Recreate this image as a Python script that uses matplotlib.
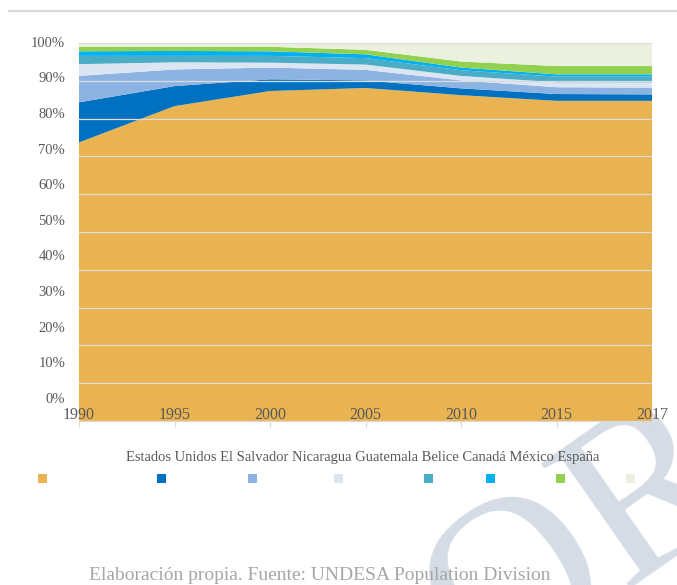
import matplotlib
matplotlib.use("Agg")
import matplotlib.pyplot as plt
from matplotlib.patches import Rectangle
from matplotlib.lines import Line2D

plt.rcParams['font.family'] = ['Liberation Serif', 'DejaVu Serif']

years = ["1990", "1995", "2000", "2005", "2010", "2015", "2017"]
paises = ["Estados Unidos", "El Salvador", "Nicaragua", "Guatemala",
          "Belice", "Canadá", "México", "España"]

# porcentaje de emigrantes por destino (lectura aproximada del gráfico)
estados_unidos = [73.7, 83.3, 87.3, 88.1, 86.2, 84.7, 84.7]
el_salvador = [10.6, 5.3, 3.1, 2.0, 1.8, 1.8, 1.7]
nicaragua = [7.0, 4.4, 3.1, 2.8, 2.1, 1.8, 1.8]
guatemala = [3.1, 1.9, 1.3, 1.4, 1.2, 1.3, 1.4]
belice = [2.2, 1.7, 1.8, 1.7, 1.5, 1.5, 1.5]
canada = [1.2, 1.3, 1.2, 1.0, 0.7, 0.6, 0.6]
mexico = [1.2, 1.1, 1.2, 1.2, 1.6, 2.2, 2.2]
espana = [1.0, 1.0, 1.0, 1.8, 4.9, 6.1, 6.1]

colores = ["#E8B350", "#0070C0", "#8DB3E2", "#DCE6F2",
           "#4BACC6", "#00B0F0", "#92D050", "#EBF1DE"]

W, H = 677, 585
fig = plt.figure(figsize=(W / 100, H / 100), dpi=100)

# marca de agua (detras del grafico)
fig.text(585 / W, 1 - 545 / H, "OR", fontsize=170, color="#D5DCE6",
         rotation=35, ha="center", va="center", zorder=-5)

# linea superior
fig.add_artist(Line2D([9 / W, 1], [1 - 11 / H, 1 - 11 / H], color="#D9D9D9", lw=1.6))

ax = fig.add_axes([79 / W, 1 - 421 / H, (652 - 79) / W, (421 - 43) / H])
x = list(range(len(years)))
ax.stackplot(x, estados_unidos, el_salvador, nicaragua, guatemala, belice,
             canada, mexico, espana, colors=colores, linewidth=0)
ax.set_xlim(0, len(years) - 1)
ax.set_ylim(0, 100)
ax.set_axisbelow(False)
ax.set_yticks(range(0, 101, 10))
ax.yaxis.grid(True, color="#DCDCDC", lw=0.9)
ax.tick_params(axis="y", length=0, labelleft=False)
ax.set_xticks(x)
ax.set_xticklabels(years)
ax.tick_params(axis="x", length=4, color="#D9D9D9", pad=-14,
               labelsize=11.5, labelcolor="#595959")
for s in ["top", "right", "left"]:
    ax.spines[s].set_visible(False)
ax.spines["bottom"].set_color("#D9D9D9")

# etiquetas del eje y (desplazadas como en el original)
lab = fig.add_axes([79 / W, 1 - 398 / H, 0.0001, (398 - 41.7) / H])
lab.set_ylim(0, 100)
lab.set_yticks(range(0, 101, 10))
lab.set_yticklabels([f"{v}%" for v in range(0, 101, 10)])
lab.tick_params(axis="y", length=0, pad=10, labelsize=10.5, labelcolor="#595959")
lab.set_xticks([])
for s in lab.spines.values():
    s.set_visible(False)
lab.patch.set_alpha(0)

# leyenda
fig.text(363 / W, 1 - 458 / H, " ".join(paises), ha="center", va="center",
         fontsize=10.5, color="#595959")
xs_leyenda = [42, 161, 252, 338, 428, 490, 560, 630]
for xc, c in zip(xs_leyenda, colores):
    fig.add_artist(Rectangle(((xc - 4.5) / W, 1 - 482.5 / H), 9 / W, 9 / H,
                             facecolor=c, edgecolor="none", zorder=3))

fig.text(320 / W, 1 - 575 / H, "Elaboración propia. Fuente: UNDESA Population Division",
         ha="center", va="center", fontsize=14, color="#A6A6A6", zorder=3)

fig.savefig("out.png", dpi=100)
